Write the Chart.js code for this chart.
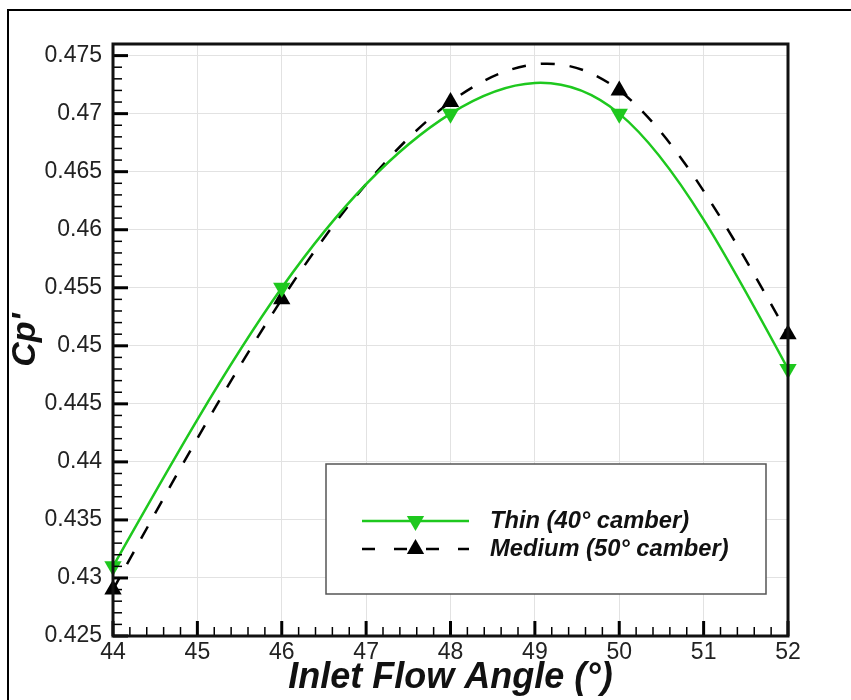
<!DOCTYPE html>
<html><head><meta charset="utf-8">
<script src="https://cdn.jsdelivr.net/npm/chart.js@4.4.1/dist/chart.umd.min.js"></script>
<style>
html,body{margin:0;padding:0;background:#fff;overflow:hidden;}
#wrap{position:relative;width:851px;height:700px;overflow:hidden;}
#frame{position:absolute;left:7px;top:9px;width:900px;height:800px;border:2px solid #000;}
canvas{position:absolute;left:0;top:0;}
</style></head><body>
<div id="wrap"><div id="frame"></div><canvas id="c" width="851" height="700"></canvas></div>
<script>
// ---- data ----
const angles = [44, 46, 48, 50, 52];
const thinCp = [0.431, 0.455, 0.470, 0.470, 0.448];
const mediumCp = [0.429, 0.454, 0.471, 0.472, 0.451];
const seriesNames = ['Thin (40° camber)', 'Medium (50° camber)'];
const xMin = 44, xMax = 52, xStep = 1, xMinorStep = 0.2;
const yMin = 0.425, yMax = 0.476, yStep = 0.005, yMinorStep = 0.001;
const xTitle = 'Inlet Flow Angle (°)';
const yTitle = "Cp'";

const FONT = "'Liberation Sans', Arial, sans-serif";
const GREEN = '#1ec81e';

const toPts = (xs, ys) => xs.map((x, i) => ({x: x, y: ys[i]}));

// natural cubic spline: slopes at the knots (data space)
function naturalSlopes(xs, ys) {
  const n = xs.length;
  const h = [], M = new Array(n).fill(0);
  for (let i = 0; i < n - 1; i++) h.push(xs[i + 1] - xs[i]);
  if (n > 2) {
    const a = [], b = [], c = [], d = [];
    for (let i = 1; i < n - 1; i++) {
      a.push(h[i - 1]); b.push(2 * (h[i - 1] + h[i])); c.push(h[i]);
      d.push(6 * ((ys[i + 1] - ys[i]) / h[i] - (ys[i] - ys[i - 1]) / h[i - 1]));
    }
    const m = b.length;
    for (let i = 1; i < m; i++) {
      const w = a[i] / b[i - 1];
      b[i] -= w * c[i - 1]; d[i] -= w * d[i - 1];
    }
    const sol = new Array(m);
    sol[m - 1] = d[m - 1] / b[m - 1];
    for (let i = m - 2; i >= 0; i--) sol[i] = (d[i] - c[i] * sol[i + 1]) / b[i];
    for (let i = 0; i < m; i++) M[i + 1] = sol[i];
  }
  const s = [];
  for (let i = 0; i < n; i++) {
    if (i < n - 1) s.push((ys[i + 1] - ys[i]) / h[i] - h[i] * (2 * M[i] + M[i + 1]) / 6);
    else s.push((ys[i] - ys[i - 1]) / h[i - 1] + h[i - 1] * (M[i - 1] + 2 * M[i]) / 6);
  }
  return s;
}

// replace Chart.js bezier control points by those of a natural cubic spline
const splinePlugin = {
  id: 'naturalSpline',
  beforeDatasetDraw(chart, args) {
    const meta = args.meta;
    const line = meta.dataset;
    if (!line || !line.updateControlPoints) return;
    line.updateControlPoints(chart.chartArea, meta.iScale.axis);
    const pts = meta.data;
    const ds = chart.data.datasets[args.index].data;
    const xs = ds.map(p => p.x), ys = ds.map(p => p.y);
    const sl = naturalSlopes(xs, ys);
    const X = chart.scales.x, Y = chart.scales.y;
    for (let i = 0; i < pts.length; i++) {
      const hp = i > 0 ? (xs[i] - xs[i - 1]) / 3 : 0;
      const hn = i < pts.length - 1 ? (xs[i + 1] - xs[i]) / 3 : 0;
      pts[i].cp1x = X.getPixelForValue(xs[i] - hp);
      pts[i].cp1y = Y.getPixelForValue(ys[i] - sl[i] * hp);
      pts[i].cp2x = X.getPixelForValue(xs[i] + hn);
      pts[i].cp2y = Y.getPixelForValue(ys[i] + sl[i] * hn);
    }
    line._path = undefined;
  }
};

const tickPlugin = {
  id: 'axesFrame',
  afterDatasetsDraw(chart) {
    const {ctx, chartArea: {left, right, top, bottom}, scales: {x, y}} = chart;
    ctx.save();
    ctx.strokeStyle = '#000';
    const yPer = Math.round(yStep / yMinorStep);
    for (let i = 0; ; i++) {
      const v = yMin + i * yMinorStep;
      if (v > yMax + 1e-9) break;
      const py = y.getPixelForValue(v);
      const major = i % yPer === 0;
      ctx.lineWidth = major ? 3 : 1.5;
      ctx.beginPath(); ctx.moveTo(left, py); ctx.lineTo(left + (major ? 15 : 9), py); ctx.stroke();
    }
    const xPer = Math.round(xStep / xMinorStep);
    for (let i = 0; ; i++) {
      const v = xMin + i * xMinorStep;
      if (v > xMax + 1e-9) break;
      const px = x.getPixelForValue(v);
      const major = i % xPer === 0;
      ctx.lineWidth = major ? 3 : 1.5;
      ctx.beginPath(); ctx.moveTo(px, bottom); ctx.lineTo(px, bottom - (major ? 15 : 9)); ctx.stroke();
    }
    ctx.lineWidth = 3;
    ctx.strokeStyle = '#111';
    ctx.strokeRect(left, top, right - left, bottom - top);
    ctx.restore();
  }
};

function drawTri(ctx, cx, cy, r, down, color) {
  ctx.save();
  ctx.fillStyle = color;
  ctx.translate(cx, cy);
  if (down) ctx.rotate(Math.PI);
  ctx.beginPath();
  for (let k = 0; k < 3; k++) {
    const a = k * 2 * Math.PI / 3;
    const px = Math.sin(a) * r, py = -Math.cos(a) * r;
    if (k === 0) ctx.moveTo(px, py); else ctx.lineTo(px, py);
  }
  ctx.closePath();
  ctx.fill();
  ctx.restore();
}

const legendPlugin = {
  id: 'boxLegend',
  afterDraw(chart, args, opts) {
    const ctx = chart.ctx;
    const b = opts.box;
    ctx.save();
    ctx.fillStyle = '#fff';
    ctx.fillRect(b.x, b.y, b.w, b.h);
    ctx.strokeStyle = '#555';
    ctx.lineWidth = 1.5;
    ctx.strokeRect(b.x, b.y, b.w, b.h);
    chart.data.datasets.forEach((ds, i) => {
      const ly = opts.rowY[i];
      ctx.save();
      ctx.strokeStyle = ds.borderColor;
      ctx.lineWidth = ds.borderWidth;
      ctx.setLineDash(ds.borderDash ? [13, 19] : []);
      ctx.beginPath(); ctx.moveTo(opts.lineX0, ly); ctx.lineTo(opts.lineX1, ly); ctx.stroke();
      ctx.restore();
      drawTri(ctx, (opts.lineX0 + opts.lineX1) / 2, ly, ds.pointRadius, ds.pointRotation === 180, ds.pointBackgroundColor);
      ctx.fillStyle = '#111';
      ctx.font = 'italic bold 23.7px ' + FONT;
      ctx.textBaseline = 'middle';
      ctx.textAlign = 'left';
      ctx.fillText(ds.label, opts.textX, ly);
    });
    ctx.restore();
  }
};

new Chart(document.getElementById('c'), {
  type: 'line',
  data: {
    datasets: [
      {
        label: seriesNames[0],
        data: toPts(angles, thinCp),
        borderColor: GREEN, borderWidth: 2.5,
        pointStyle: 'triangle', pointRotation: 180, pointRadius: 10,
        pointBackgroundColor: GREEN, pointBorderWidth: 0, pointBorderColor: GREEN,
        tension: 0.4, clip: false, fill: false
      },
      {
        label: seriesNames[1],
        data: toPts(angles, mediumCp),
        borderColor: '#000', borderWidth: 2.5, borderDash: [14, 15],
        pointStyle: 'triangle', pointRotation: 0, pointRadius: 10,
        pointBackgroundColor: '#000', pointBorderWidth: 0, pointBorderColor: '#000',
        tension: 0.4, clip: false, fill: false
      }
    ]
  },
  options: {
    responsive: false, animation: false, devicePixelRatio: 1,
    layout: {padding: {top: 44, right: 63, left: 0, bottom: 0}},
    scales: {
      x: {
        type: 'linear', min: xMin, max: xMax,
        ticks: {stepSize: xStep, font: {family: FONT, size: 23}, color: '#222', padding: 3, maxRotation: 0},
        grid: {color: '#e2e2e2', lineWidth: 1, drawTicks: false},
        border: {display: false},
        title: {display: true, text: xTitle, color: '#111', font: {family: FONT, size: 36, style: 'italic', weight: 'bold'}, padding: {top: 0, bottom: 0}},
        afterFit: s => { s.height = 64; }
      },
      y: {
        type: 'linear', min: yMin, max: yMax,
        ticks: {stepSize: yStep, includeBounds: false, font: {family: FONT, size: 23}, color: '#222', padding: 11,
          callback: v => String(+v.toFixed(3))},
        grid: {color: '#e2e2e2', lineWidth: 1, drawTicks: false},
        border: {display: false},
        title: {display: true, text: yTitle, color: '#111', font: {family: FONT, size: 34, style: 'italic', weight: 'bold'}, padding: {top: 5, bottom: 0}},
        afterFit: s => { s.width = 113; }
      }
    },
    plugins: {
      legend: {display: false},
      tooltip: {enabled: false},
      boxLegend: {box: {x: 326, y: 464, w: 440, h: 130}, rowY: [521, 549], lineX0: 362, lineX1: 469, textX: 490}
    }
  },
  plugins: [splinePlugin, tickPlugin, legendPlugin]
});
</script>
</body></html>
